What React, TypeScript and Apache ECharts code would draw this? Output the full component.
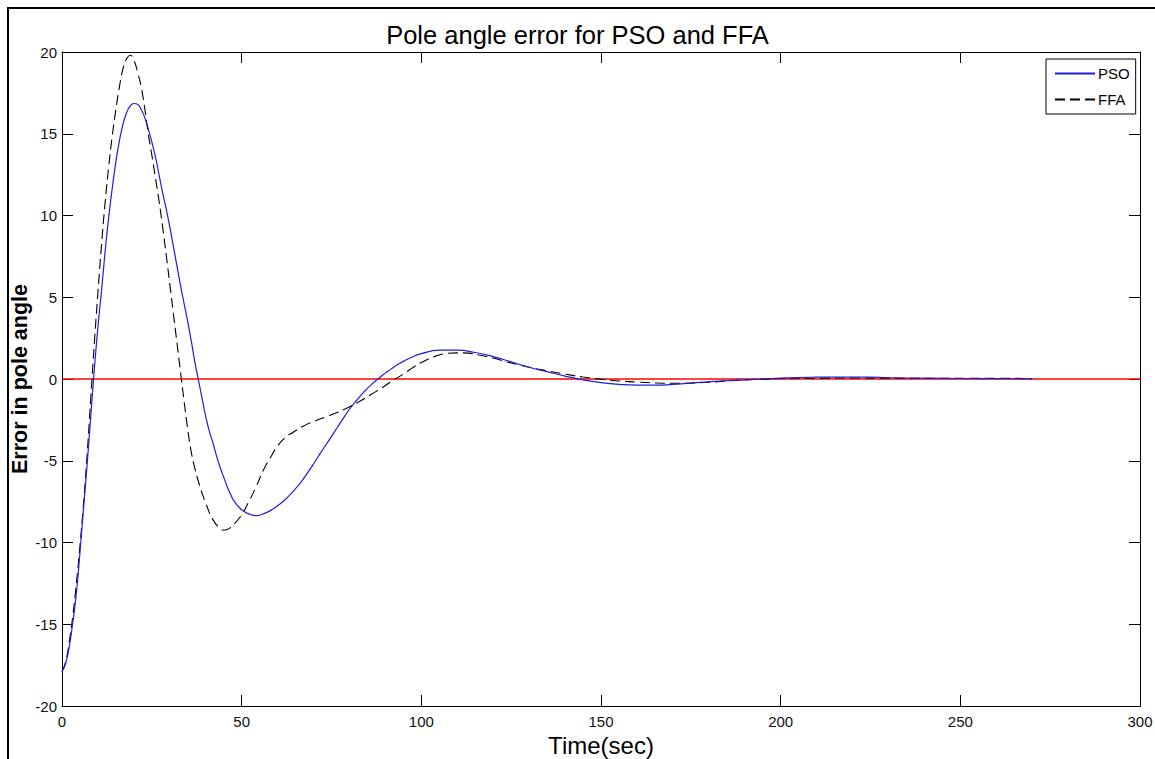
import React, { useEffect, useRef } from "react";
import * as echarts from "echarts";

const TITLE = "Pole angle error for PSO and FFA";
const X_NAME = "Time(sec)";
const Y_NAME = "Error in pole angle";
const SERIES_NAMES = ["PSO", "FFA"];

const PSO_T = [0, 1, 2, 3, 4, 5, 6, 7, 8, 9, 10, 11, 12, 13, 14, 15, 16, 17, 18, 19, 20, 21, 22, 23, 24, 25, 26, 27, 28, 29, 30, 31, 32, 33, 34, 35, 36, 37, 38, 39, 40, 41, 42, 43, 44, 45, 46, 47, 48, 50, 52, 54, 56, 58, 60, 62, 64, 66, 68, 70, 72, 74, 76, 78, 80, 82, 84, 86, 88, 90, 92, 94, 97, 100, 105, 110, 115, 120, 125, 130, 135, 140, 145, 150, 155, 160, 165, 170, 175, 180, 185, 190, 195, 200, 205, 210, 215, 220, 225, 230, 240, 250, 260, 270];
const PSO_V = [-17.9, -17.4, -16.4, -14.9, -13.1, -10.6, -7.9, -5.2, -2.3, 0.6, 3.2, 5.4, 7.8, 9.9, 11.7, 13.3, 14.6, 15.6, 16.3, 16.7, 16.85, 16.8, 16.5, 16.0, 15.3, 14.5, 13.6, 12.5, 11.4, 10.4, 9.3, 8.1, 6.9, 5.7, 4.6, 3.5, 2.3, 1.0, -0.1, -1.2, -2.3, -3.2, -3.9, -4.7, -5.4, -6.0, -6.6, -7.1, -7.5, -8.0, -8.25, -8.36, -8.25, -8.05, -7.75, -7.4, -6.95, -6.45, -5.85, -5.2, -4.5, -3.85, -3.17, -2.5, -1.85, -1.3, -0.8, -0.36, 0.02, 0.36, 0.68, 0.96, 1.3, 1.55, 1.76, 1.77, 1.62, 1.37, 1.05, 0.72, 0.45, 0.18, -0.05, -0.22, -0.33, -0.38, -0.38, -0.33, -0.25, -0.17, -0.1, -0.05, 0.0, 0.05, 0.09, 0.11, 0.12, 0.12, 0.11, 0.08, 0.05, 0.03, 0.02, 0.01];

const FFA_T = [0, 1, 2, 3, 4, 5, 6, 7, 8, 9, 10, 11, 12, 13, 14, 15, 16, 17, 18, 19, 20, 21, 22, 23, 24, 25, 26, 27, 28, 29, 30, 31, 32, 33, 34, 35, 36, 37, 38, 39, 40, 42, 44, 45, 46, 48, 50, 52, 54, 56, 58, 60, 62, 64, 67, 70, 73, 76, 80, 83, 86, 89, 92, 95, 98, 101, 104, 107, 110, 113, 116, 120, 125, 130, 135, 140, 145, 150, 155, 160, 165, 170, 175, 180, 185, 190, 195, 200, 210, 220, 230, 240, 250, 260, 270];
const FFA_V = [-17.9, -17.3, -16.1, -14.5, -12.5, -10.2, -7.6, -4.6, -1.2, 2.2, 5.3, 8.2, 10.8, 13.0, 14.9, 16.5, 17.9, 19.0, 19.6, 19.8, 19.5, 18.8, 17.9, 16.6, 15.0, 13.7, 12.3, 10.9, 9.3, 7.6, 5.8, 4.0, 2.2, 0.4, -1.4, -3.1, -4.5, -5.5, -6.3, -7.0, -7.6, -8.6, -9.15, -9.24, -9.2, -8.85, -8.3, -7.5, -6.6, -5.6, -4.8, -4.1, -3.6, -3.3, -2.9, -2.6, -2.35, -2.1, -1.7, -1.35, -0.95, -0.55, -0.1, 0.3, 0.75, 1.12, 1.4, 1.56, 1.6, 1.58, 1.47, 1.28, 0.98, 0.72, 0.5, 0.3, 0.12, -0.02, -0.12, -0.19, -0.24, -0.26, -0.25, -0.2, -0.12, -0.06, -0.01, 0.03, 0.05, 0.06, 0.05, 0.05, 0.04, 0.04, 0.03];

const REF_T = [0, 300];
const REF_V = [0, 0];

const X_MIN = 0;
const X_MAX = 300;
const X_STEP = 50;
const Y_MIN = -20;
const Y_MAX = 20;
const Y_STEP = 5;

const zip = (t: number[], v: number[]) => t.map((x, i) => [x, v[i]]);

const FONT = "'Liberation Sans', Arial, sans-serif";

export default function App() {
  const ref = useRef<HTMLDivElement>(null);
  useEffect(() => {
    document.body.style.margin = "0";
    if (!ref.current) return;
    const chart = echarts.init(ref.current, undefined, { renderer: "svg" });
    const tickStyle = { inside: true, length: 11, lineStyle: { color: "#000", width: 1 } };
    const axisLine = { show: true, onZero: false, lineStyle: { color: "#000", width: 1 } };
    const label = { color: "#111", fontSize: 15, fontFamily: FONT };
    chart.setOption({
      animation: false,
      backgroundColor: "#fff",
      title: {
        text: TITLE,
        left: "center",
        top: 17,
        textStyle: { fontSize: 25.5, fontWeight: "normal", color: "#000", fontFamily: FONT },
      },
      grid: { left: 62, top: 52, right: 15, bottom: 53, containLabel: false, outerBoundsMode: "none" },
      legend: {
        left: 1046,
        top: 59,
        orient: "vertical",
        data: SERIES_NAMES,
        itemWidth: 40,
        itemHeight: 12,
        itemGap: 11,
        padding: [7, 6, 7, 8],
        borderColor: "#000",
        borderWidth: 1,
        backgroundColor: "#fff",
        itemStyle: { opacity: 0 },
        textStyle: { fontSize: 15, color: "#000", fontFamily: FONT, padding: [0, 0, 0, -2] },
      },
      xAxis: [
        {
          type: "value",
          min: X_MIN,
          max: X_MAX,
          interval: X_STEP,
          name: X_NAME,
          nameLocation: "middle",
          nameGap: 27,
          nameMoveOverlap: false,
          nameTextStyle: { fontSize: 24, color: "#000", fontFamily: FONT },
          axisLine,
          axisTick: tickStyle,
          axisLabel: { ...label, margin: 8 },
          splitLine: { show: false },
        },
        {
          type: "value",
          position: "top",
          min: X_MIN,
          max: X_MAX,
          interval: X_STEP,
          axisLine,
          axisTick: tickStyle,
          axisLabel: { show: false },
          splitLine: { show: false },
        },
      ],
      yAxis: [
        {
          type: "value",
          min: Y_MIN,
          max: Y_MAX,
          interval: Y_STEP,
          name: Y_NAME,
          nameLocation: "middle",
          nameGap: 31,
          nameMoveOverlap: false,
          nameTextStyle: { fontSize: 21.5, fontWeight: "bold", color: "#000", fontFamily: FONT },
          axisLine,
          axisTick: tickStyle,
          axisLabel: { ...label, margin: 5 },
          splitLine: { show: false },
        },
        {
          type: "value",
          position: "right",
          min: Y_MIN,
          max: Y_MAX,
          interval: Y_STEP,
          axisLine,
          axisTick: tickStyle,
          axisLabel: { show: false },
          splitLine: { show: false },
        },
      ],
      graphic: [
        { type: "line", shape: { x1: 7, y1: 8, x2: 1155, y2: 8 }, style: { stroke: "#000", lineWidth: 2 } },
        { type: "line", shape: { x1: 8, y1: 7, x2: 8, y2: 759 }, style: { stroke: "#000", lineWidth: 2 } },
      ],
      series: [
        {
          name: "ref",
          type: "line",
          data: zip(REF_T, REF_V),
          symbol: "none",
          silent: true,
          lineStyle: { color: "#ff0000", width: 1.3 },
          z: 1,
        },
        {
          name: SERIES_NAMES[0],
          type: "line",
          data: zip(PSO_T, PSO_V),
          symbol: "none",
          smooth: true,
          color: "#1f1fd8",
          lineStyle: { color: "#1f1fd8", width: 1.2 },
          z: 3,
        },
        {
          name: SERIES_NAMES[1],
          type: "line",
          data: zip(FFA_T, FFA_V),
          symbol: "none",
          smooth: true,
          color: "#000",
          lineStyle: { color: "#000", width: 1.1, type: [10, 5] },
          z: 2,
        },
      ],
    });
    return () => chart.dispose();
  }, []);
  return <div ref={ref} style={{ width: 1155, height: 759 }} />;
}
